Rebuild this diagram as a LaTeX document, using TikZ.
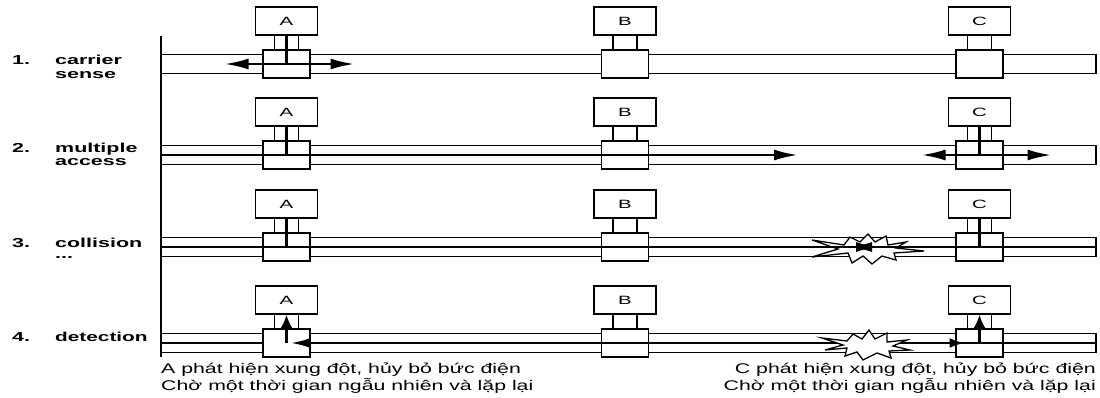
\documentclass[tikz,border=0pt]{standalone}
\usepackage{fontspec}
\usepackage{graphicx}
\setmainfont{Liberation Sans}
\usetikzlibrary{arrows.meta,calc}
\newcommand{\wx}[2]{\scalebox{#1}[1]{#2}}
\tikzset{
  bighead/.tip={Latex[length=24pt,width=11pt]},
  midhead/.tip={Latex[length=22pt,width=10pt]},
  uphead/.tip={Latex[length=15pt,width=14pt]},
}
\begin{document}
\begin{tikzpicture}[x=1pt,y=-1pt,
  stationbox/.style={draw, line width=1.4pt, minimum width=62pt, minimum height=28pt, inner sep=0pt, fill=white, font=\fontsize{12}{14}\selectfont},
  tapbox/.style={draw, line width=1.4pt, minimum width=47pt, minimum height=28pt, inner sep=0pt, fill=white},
  cableline/.style={line width=1.3pt},
  stub/.style={line width=1.4pt},
  sig/.style={line width=2.6pt},
  rowlabel/.style={anchor=base west, inner sep=0pt, font=\fontsize{13}{15}\selectfont\bfseries},
  note/.style={inner sep=0pt, font=\fontsize{14}{16}\selectfont},
  burst/.style={draw, line width=1.3pt, fill=white, line join=miter},
]
\useasboundingbox (0,0) rectangle (1100,397);

% left vertical line
\coordinate (vtop) at (161,36);
\coordinate (vbot) at (161,357);
\draw[line width=1.6pt] (vtop) -- (vbot);

% rows: cable, stations, taps, stubs
\foreach \r/\oy in {1/0,2/91,3/183,4/279}{
  \coordinate (L\r) at (161,\oy+64);
  \coordinate (R\r) at (1096,\oy+64);
  \draw[cableline] (161,\oy+54.5) -- (1096,\oy+54.5) -- (1096,\oy+73.5) -- (161,\oy+73.5);
  \foreach \s/\cx in {A/286.5,B/625,C/979.5}{
    \node[stationbox] (\s\r) at (\cx,\oy+21) {\wx{1.7}{\s}};
    \node[tapbox] (t\s\r) at (\cx,\oy+64) {};
    \draw[stub] ($(\s\r.south)+(-12,0)$) -- ($(t\s\r.north)+(-12,0)$);
    \draw[stub] ($(\s\r.south)+(12,0)$) -- ($(t\s\r.north)+(12,0)$);
  }
}

% row labels
\node[rowlabel] (n1) at (12,64) {\wx{1.65}{1.}};
\node[rowlabel] (l1a) at (55,64) {\wx{1.65}{carrier}};
\node[rowlabel] (l1b) at (55,78) {\wx{1.65}{sense}};
\node[rowlabel] (n2) at (12,152) {\wx{1.65}{2.}};
\node[rowlabel] (l2a) at (55,152) {\wx{1.65}{multiple}};
\node[rowlabel] (l2b) at (55,165) {\wx{1.65}{access}};
\node[rowlabel] (n3) at (12,247) {\wx{1.65}{3.}};
\node[rowlabel] (l3a) at (55,247) {\wx{1.65}{collision}};
\node[rowlabel] (l3b) at (55,258) {\wx{1.65}{...}};
\node[rowlabel] (n4) at (12,341) {\wx{1.65}{4.}};
\node[rowlabel] (l4a) at (55,341) {\wx{1.6}{detection}};

% ---- row 1: carrier sense
\draw[sig] (A1.south) -- (tA1.center);
\draw[sig, {bighead}-{bighead}] ($(tA1.center)+(-62,0)$) -- ($(tA1.center)+(68,0)$);

% ---- row 2: multiple access
\draw[sig] (A2.south) -- (tA2.center);
\coordinate (m2) at (798,155);
\draw[sig, -{bighead}] (L2) -- (m2);
\draw[sig] (C2.south) -- (tC2.center);
\draw[sig, {bighead}-{bighead}] ($(tC2.center)+(-58,0)$) -- ($(tC2.center)+(72,0)$);

% ---- row 3: collision
\draw[burst, shift={(866,248)}] (-54,-8) -- (-22,-3) -- (-16,-11) -- (-6,-6) -- (2,-14) -- (9,-6) -- (20,-12) -- (22,-3) -- (40,-6) -- (30,0) -- (58,3) -- (28,5) -- (30,12) -- (16,8) -- (6,16) -- (-3,8) -- (-14,15) -- (-18,5) -- (-54,9) -- (-28,1) -- cycle;
\draw[sig] (A3.south) -- (tA3.center);
\draw[sig] (C3.south) -- (tC3.center);
\coordinate (x3l) at (878,247);
\coordinate (x3r) at (850,247);
\draw[sig, -{midhead}] (L3) -- (x3l);
\draw[sig, -{midhead}] (R3) -- (x3r);

% ---- row 4: detection
\draw[sig] (L4) -- (tA4.west);
\draw[sig, -{Latex[length=20pt,width=10pt]}] (R4) -- ($(tA4.center)+(4,0)$);
\draw[sig, -{uphead}] (tA4.center) -- (A4.south);
\draw[sig, -{Latex[length=15pt,width=10pt]}] ($(tC4.center)+(-40,0)$) -- ($(tC4.center)+(-15,0)$);
\draw[sig, -{uphead}] (tC4.center) -- (C4.south);
\draw[burst, shift={(865,344)}] (-43,-6) -- (-18,-3) -- (-12,-10) -- (-3,-5) -- (4,-14) -- (10,-5) -- (22,-11) -- (22,-2) -- (42,-4) -- (28,2) -- (45,6) -- (24,7) -- (26,14) -- (12,9) -- (-2,16) -- (-8,8) -- (-20,12) -- (-18,4) -- (-40,6) -- (-22,1) -- cycle;

% ---- notes
\node[note, anchor=base west] (na1) at (161,373) {\wx{1.52}{A phát hiện xung đột, hủy bỏ bức điện}};
\node[note, anchor=base west] (na2) at (161,390) {\wx{1.52}{Chờ một thời gian ngẫu nhiên và lặp lại}};
\node[note, anchor=base east] (nc1) at (1096,373) {\wx{1.52}{C phát hiện xung đột, hủy bỏ bức điện}};
\node[note, anchor=base east] (nc2) at (1096,390) {\wx{1.52}{Chờ một thời gian ngẫu nhiên và lặp lại}};
\end{tikzpicture}
\end{document}
